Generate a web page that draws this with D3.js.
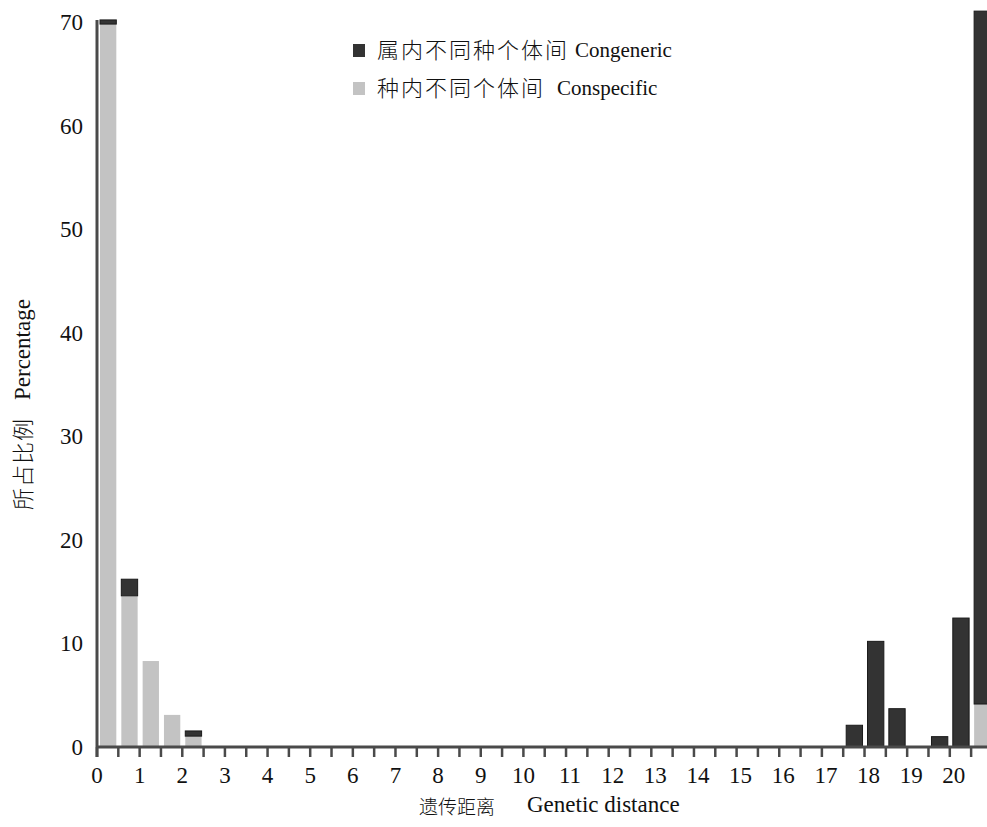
<!DOCTYPE html>
<html>
<head>
<meta charset="utf-8">
<script src="https://cdn.jsdelivr.net/npm/d3@7"></script>
<style>
  html, body { margin: 0; padding: 0; background: #fff; }
  svg text { font-family: "Liberation Serif", "Noto Sans CJK SC", serif; fill: #111; }
  .cjk { font-family: "Noto Sans CJK SC", sans-serif; font-weight: 300; }
</style>
</head>
<body>
<div id="chart"></div>
<script>
// bins are 0.5 wide, value = start of the bin
var binStarts   = [0, 0.5, 1, 1.5, 2, 17.5, 18, 18.5, 19.5, 20, 20.5];
var conspecific = [69.8, 14.6, 8.3, 3.1, 1.05, 0, 0, 0, 0, 0, 4.15];
var congeneric  = [0.4, 1.6, 0, 0, 0.5, 2.1, 10.2, 3.7, 1.0, 12.45, 66.9];
var yTicks = [0, 10, 20, 30, 40, 50, 60, 70];
var xLabels = d3.range(0, 21);
var xMinorTicks = d3.range(0, 21, 0.5);

var seriesNames = ["属内不同种个体间", "种内不同个体间"];
var seriesEnglish = ["Congeneric", "Conspecific"];
var DARK = "#333333";
var LIGHT = "#c3c3c3";
var AXIS_COLOR = "#4a4a4a";

var width = 987, height = 827;

var svg = d3.select("#chart")
            .append("svg")
            .attr("width", width)
            .attr("height", height);

var x = d3.scaleLinear().domain([0, 21]).range([97, 97 + 21 * 42.64]);
var y = d3.scaleLinear().domain([0, 70]).range([747, 22]);

var rows = binStarts.map(function(b, i) {
    return {bin: b, conspecific: conspecific[i], congeneric: congeneric[i]};
});

var stack = d3.stack().keys(["conspecific", "congeneric"])(rows);
var colors = {conspecific: LIGHT, congeneric: DARK};

// bars
stack.forEach(function(layer) {
    svg.append("g")
       .selectAll("rect")
       .data(layer.filter(function(d) { return d[1] - d[0] > 0; }))
       .enter().append("rect")
       .attr("x", function(d) { return x(d.data.bin) + 3; })
       .attr("width", function(d) { return x(d.data.bin + 0.5) - x(d.data.bin) - 5; })
       .attr("y", function(d) { return y(d[1]); })
       .attr("height", function(d) { return y(d[0]) - y(d[1]); })
       .attr("fill", colors[layer.key])
       .attr("stroke", layer.key === "congeneric" ? "#1a1a1a" : "none")
       .attr("stroke-width", 1);
});

// y axis (line + labels only)
svg.append("line")
   .attr("x1", x(0)).attr("x2", x(0))
   .attr("y1", y(70) - 2).attr("y2", y(0) + 10)
   .attr("stroke", AXIS_COLOR).attr("stroke-width", 3);

svg.append("g")
   .selectAll("text")
   .data(yTicks)
   .enter().append("text")
   .attr("x", 83)
   .attr("y", function(d) { return y(d); })
   .attr("dy", "0.35em")
   .attr("text-anchor", "end")
   .style("font-size", "23px")
   .text(function(d) { return d; });

// x axis
svg.append("line")
   .attr("x1", x(0)).attr("x2", width)
   .attr("y1", y(0)).attr("y2", y(0))
   .attr("stroke", AXIS_COLOR).attr("stroke-width", 3);

svg.append("g")
   .selectAll("line")
   .data(xMinorTicks)
   .enter().append("line")
   .attr("x1", function(d) { return x(d); })
   .attr("x2", function(d) { return x(d); })
   .attr("y1", y(0))
   .attr("y2", y(0) + 10)
   .attr("stroke", AXIS_COLOR)
   .attr("stroke-width", 2.5);

svg.append("g")
   .selectAll("text")
   .data(xLabels)
   .enter().append("text")
   .attr("x", function(d) { return x(d) + (d > 10 ? 4 : 0); })
   .attr("y", 783)
   .attr("text-anchor", "middle")
   .style("font-size", "23px")
   .text(function(d) { return d; });

// axis titles
svg.append("text")
   .attr("class", "cjk")
   .attr("x", 419).attr("y", 814)
   .style("font-size", "19px")
   .text("遗传距离");
svg.append("text")
   .attr("x", 527).attr("y", 812)
   .style("font-size", "23px")
   .text("Genetic distance");

var yTitle = svg.append("g").attr("transform", "translate(30,510) rotate(-90)");
yTitle.append("text")
   .attr("class", "cjk")
   .attr("x", 0).attr("y", 1)
   .style("font-size", "22px")
   .style("letter-spacing", "1px")
   .text("所占比例");
yTitle.append("text")
   .attr("x", 110).attr("y", 0)
   .style("font-size", "23px")
   .text("Percentage");

// legend
var legend = svg.append("g");
var legendRows = [
    {name: seriesNames[0], en: seriesEnglish[0], color: DARK, y: 57, enX: 575},
    {name: seriesNames[1], en: seriesEnglish[1], color: LIGHT, y: 95, enX: 557}
];
legendRows.forEach(function(r) {
    legend.append("rect")
          .attr("x", 353).attr("y", r.y - 13)
          .attr("width", 12).attr("height", 13)
          .attr("fill", r.color);
    legend.append("text")
          .attr("class", "cjk")
          .attr("x", 377).attr("y", r.y + 1)
          .style("font-size", "22px")
          .style("letter-spacing", "2px")
          .text(r.name);
    legend.append("text")
          .attr("x", r.enX).attr("y", r.y)
          .style("font-size", "21px")
          .text(r.en);
});
</script>
</body>
</html>
